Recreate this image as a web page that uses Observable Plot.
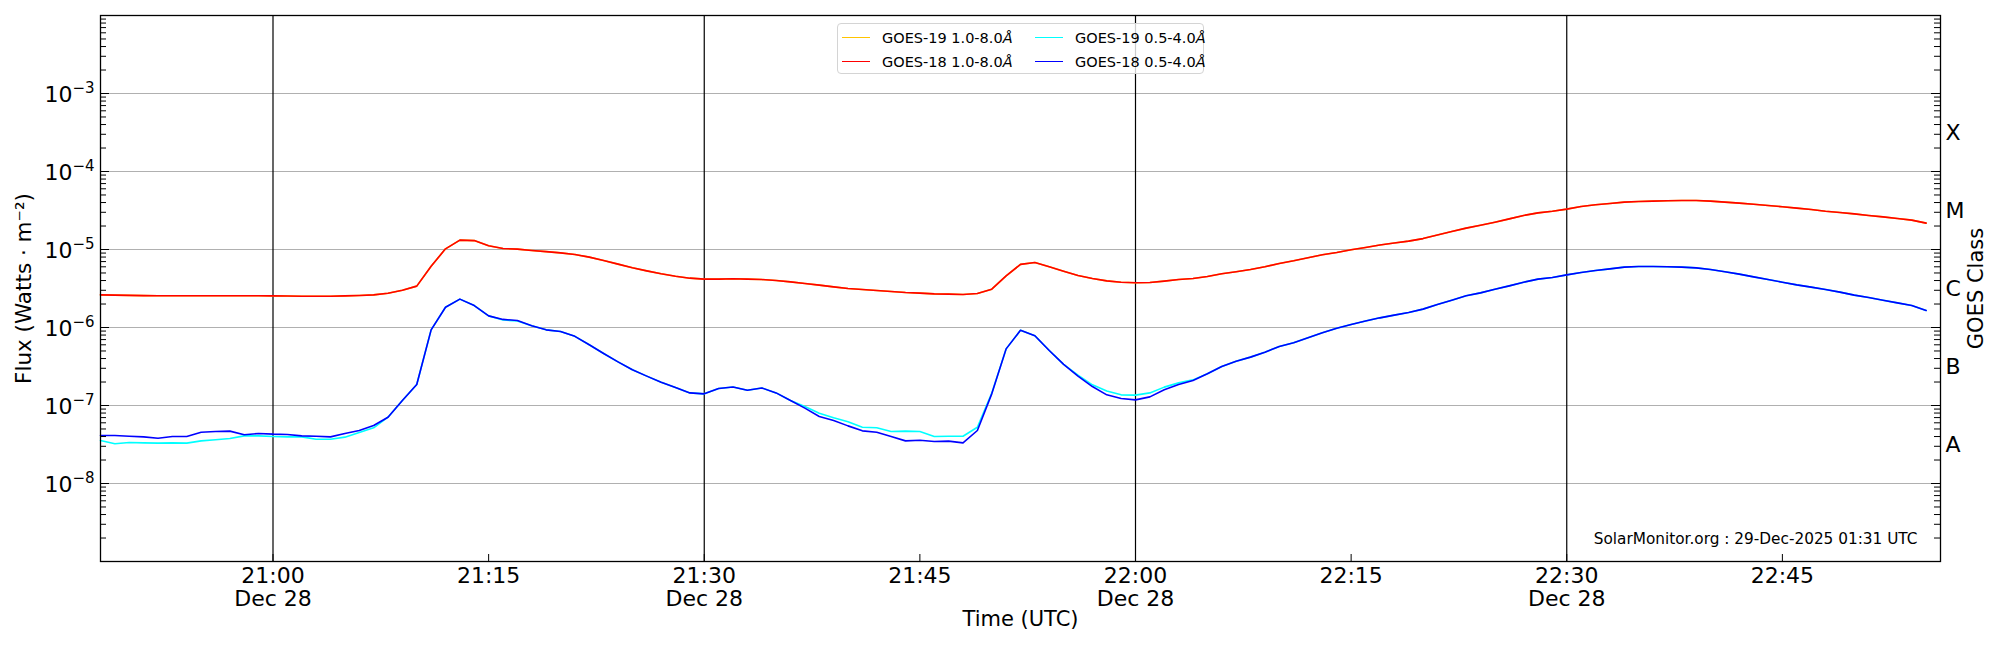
<!DOCTYPE html>
<html>
<head>
<meta charset="utf-8">
<script src="https://cdn.jsdelivr.net/npm/d3@7"></script>
<script src="https://cdn.jsdelivr.net/npm/@observablehq/plot@0.6"></script>
<style>
  body { margin: 0; background: #fff; }
  #wrap { position: relative; width: 2000px; height: 650px; font-family: "DejaVu Sans", sans-serif; }
  #legend { position: absolute; left: 837px; top: 23px; width: 365px; height: 49px;
    border: 1px solid #d4d4d4; border-radius: 4px; background: rgba(255,255,255,0.8);
    font: 14.5px "DejaVu Sans", sans-serif; color: #000; }
  #legend .h { position: absolute; width: 28px; height: 0; border-top: 1.5px solid; }
  #legend .t { position: absolute; line-height: 16px; white-space: nowrap; }
</style>
</head>
<body>
<div id="wrap"></div>
<script>
// ---- data (one sample per minute starting 2025-12-28 20:48 UTC) ----
const startTime = "2025-12-28T20:48:00Z";

const seriesNames = ["GOES-19 1.0-8.0Å", "GOES-18 1.0-8.0Å", "GOES-19 0.5-4.0Å", "GOES-18 0.5-4.0Å"];
const seriesColors = ["#ffc400", "#ff0000", "#00ffff", "#0000ff"];

const goes19Long = [
2.62e-6, 2.60e-6, 2.58e-6, 2.56e-6, 2.55e-6, 2.55e-6, 2.55e-6, 2.55e-6, 2.55e-6, 2.55e-6,
2.55e-6, 2.55e-6, 2.54e-6, 2.53e-6, 2.52e-6, 2.52e-6, 2.52e-6, 2.54e-6, 2.57e-6, 2.62e-6,
2.75e-6, 3.01e-6, 3.39e-6, 6.1e-6, 1.02e-5, 1.32e-5, 1.30e-5, 1.12e-5, 1.03e-5, 1.01e-5,
9.7e-6, 9.4e-6, 9.06e-6, 8.63e-6, 7.98e-6, 7.23e-6, 6.49e-6, 5.82e-6, 5.32e-6, 4.88e-6,
4.55e-6, 4.29e-6, 4.17e-6, 4.17e-6, 4.21e-6, 4.17e-6, 4.12e-6, 4.01e-6, 3.85e-6, 3.66e-6,
3.49e-6, 3.32e-6, 3.16e-6, 3.07e-6, 2.98e-6, 2.90e-6, 2.81e-6, 2.76e-6, 2.70e-6, 2.68e-6,
2.65e-6, 2.73e-6, 3.10e-6, 4.59e-6, 6.45e-6, 6.81e-6, 6.0e-6, 5.27e-6, 4.64e-6, 4.25e-6,
3.96e-6, 3.81e-6, 3.74e-6, 3.78e-6, 3.93e-6, 4.12e-6, 4.25e-6, 4.51e-6, 4.88e-6, 5.18e-6,
5.54e-6, 6.0e-6, 6.62e-6, 7.16e-6, 7.82e-6, 8.55e-6, 9.16e-6, 9.91e-6, 1.06e-5, 1.14e-5,
1.21e-5, 1.28e-5, 1.38e-5, 1.53e-5, 1.70e-5, 1.88e-5, 2.05e-5, 2.24e-5, 2.47e-5, 2.73e-5,
2.95e-5, 3.10e-5, 3.29e-5, 3.56e-5, 3.74e-5, 3.89e-5, 4.05e-5, 4.12e-5, 4.17e-5, 4.21e-5,
4.25e-5, 4.25e-5, 4.17e-5, 4.05e-5, 3.93e-5, 3.81e-5, 3.66e-5, 3.53e-5, 3.39e-5, 3.26e-5,
3.10e-5, 2.98e-5, 2.86e-5, 2.73e-5, 2.62e-5, 2.50e-5, 2.38e-5, 2.18e-5
];

const goes18Long = [
2.62e-6, 2.60e-6, 2.58e-6, 2.56e-6, 2.55e-6, 2.55e-6, 2.55e-6, 2.55e-6, 2.55e-6, 2.55e-6,
2.55e-6, 2.55e-6, 2.54e-6, 2.53e-6, 2.52e-6, 2.52e-6, 2.52e-6, 2.54e-6, 2.57e-6, 2.62e-6,
2.75e-6, 3.01e-6, 3.39e-6, 6.1e-6, 1.02e-5, 1.32e-5, 1.30e-5, 1.12e-5, 1.03e-5, 1.01e-5,
9.7e-6, 9.4e-6, 9.06e-6, 8.63e-6, 7.98e-6, 7.23e-6, 6.49e-6, 5.82e-6, 5.32e-6, 4.88e-6,
4.55e-6, 4.29e-6, 4.17e-6, 4.17e-6, 4.21e-6, 4.17e-6, 4.12e-6, 4.01e-6, 3.85e-6, 3.66e-6,
3.49e-6, 3.32e-6, 3.16e-6, 3.07e-6, 2.98e-6, 2.90e-6, 2.81e-6, 2.76e-6, 2.70e-6, 2.68e-6,
2.65e-6, 2.73e-6, 3.10e-6, 4.59e-6, 6.45e-6, 6.81e-6, 6.0e-6, 5.27e-6, 4.64e-6, 4.25e-6,
3.96e-6, 3.81e-6, 3.74e-6, 3.78e-6, 3.93e-6, 4.12e-6, 4.25e-6, 4.51e-6, 4.88e-6, 5.18e-6,
5.54e-6, 6.0e-6, 6.62e-6, 7.16e-6, 7.82e-6, 8.55e-6, 9.16e-6, 9.91e-6, 1.06e-5, 1.14e-5,
1.21e-5, 1.28e-5, 1.38e-5, 1.53e-5, 1.70e-5, 1.88e-5, 2.05e-5, 2.24e-5, 2.47e-5, 2.73e-5,
2.95e-5, 3.10e-5, 3.29e-5, 3.56e-5, 3.74e-5, 3.89e-5, 4.05e-5, 4.12e-5, 4.17e-5, 4.21e-5,
4.25e-5, 4.25e-5, 4.17e-5, 4.05e-5, 3.93e-5, 3.81e-5, 3.66e-5, 3.53e-5, 3.39e-5, 3.26e-5,
3.10e-5, 2.98e-5, 2.86e-5, 2.73e-5, 2.62e-5, 2.50e-5, 2.38e-5, 2.18e-5
];

const goes19Short = [
3.56e-8, 3.23e-8, 3.36e-8, 3.32e-8, 3.29e-8, 3.32e-8, 3.29e-8, 3.52e-8, 3.63e-8, 3.77e-8,
4.08e-8, 4.08e-8, 4.01e-8, 3.96e-8, 3.96e-8, 3.70e-8, 3.70e-8, 3.93e-8, 4.51e-8, 5.18e-8,
7.08e-8, 1.16e-7, 1.86e-7, 9.33e-7, 1.82e-6, 2.31e-6, 1.91e-6, 1.41e-6, 1.25e-6, 1.21e-6,
1.05e-6, 9.33e-7, 8.89e-7, 7.7e-7, 6.00e-7, 4.64e-7, 3.63e-7, 2.87e-7, 2.38e-7, 1.99e-7,
1.70e-7, 1.45e-7, 1.41e-7, 1.65e-7, 1.73e-7, 1.57e-7, 1.68e-7, 1.45e-7, 1.16e-7, 9.7e-8,
7.97e-8, 6.95e-8, 6.18e-8, 5.27e-8, 5.18e-8, 4.64e-8, 4.69e-8, 4.64e-8, 4.01e-8, 4.04e-8,
4.04e-8, 5.27e-8, 1.44e-7, 5.32e-7, 9.2e-7, 7.85e-7, 5.07e-7, 3.36e-7, 2.45e-7, 1.84e-7,
1.53e-7, 1.37e-7, 1.36e-7, 1.45e-7, 1.72e-7, 1.95e-7, 2.13e-7, 2.55e-7, 3.16e-7, 3.70e-7,
4.17e-7, 4.83e-7, 5.71e-7, 6.36e-7, 7.38e-7, 8.55e-7, 9.8e-7, 1.09e-6, 1.21e-6, 1.33e-6,
1.44e-6, 1.56e-6, 1.72e-6, 1.97e-6, 2.24e-6, 2.55e-6, 2.78e-6, 3.1e-6, 3.42e-6, 3.81e-6,
4.17e-6, 4.37e-6, 4.73e-6, 5.07e-6, 5.38e-6, 5.65e-6, 5.94e-6, 6.05e-6, 6.05e-6, 6.0e-6,
5.94e-6, 5.82e-6, 5.54e-6, 5.18e-6, 4.83e-6, 4.46e-6, 4.12e-6, 3.81e-6, 3.52e-6, 3.29e-6,
3.07e-6, 2.84e-6, 2.60e-6, 2.43e-6, 2.24e-6, 2.07e-6, 1.91e-6, 1.65e-6
];

const goes18Short = [
4.12e-8, 4.12e-8, 4.04e-8, 3.96e-8, 3.81e-8, 4.01e-8, 4.01e-8, 4.55e-8, 4.64e-8, 4.69e-8,
4.21e-8, 4.38e-8, 4.29e-8, 4.25e-8, 4.08e-8, 4.04e-8, 3.96e-8, 4.38e-8, 4.78e-8, 5.54e-8,
7.08e-8, 1.16e-7, 1.86e-7, 9.33e-7, 1.82e-6, 2.31e-6, 1.91e-6, 1.41e-6, 1.27e-6, 1.23e-6,
1.05e-6, 9.33e-7, 8.89e-7, 7.7e-7, 6.00e-7, 4.64e-7, 3.63e-7, 2.87e-7, 2.38e-7, 1.99e-7,
1.70e-7, 1.45e-7, 1.41e-7, 1.65e-7, 1.73e-7, 1.57e-7, 1.68e-7, 1.45e-7, 1.16e-7, 9.25e-8,
7.23e-8, 6.42e-8, 5.48e-8, 4.73e-8, 4.55e-8, 4.01e-8, 3.52e-8, 3.59e-8, 3.45e-8, 3.49e-8,
3.32e-8, 4.78e-8, 1.41e-7, 5.32e-7, 9.2e-7, 7.85e-7, 5.07e-7, 3.36e-7, 2.38e-7, 1.75e-7,
1.37e-7, 1.23e-7, 1.18e-7, 1.29e-7, 1.59e-7, 1.86e-7, 2.09e-7, 2.55e-7, 3.16e-7, 3.70e-7,
4.17e-7, 4.83e-7, 5.71e-7, 6.36e-7, 7.38e-7, 8.55e-7, 9.8e-7, 1.09e-6, 1.21e-6, 1.33e-6,
1.44e-6, 1.56e-6, 1.72e-6, 1.97e-6, 2.24e-6, 2.55e-6, 2.78e-6, 3.1e-6, 3.42e-6, 3.81e-6,
4.17e-6, 4.37e-6, 4.73e-6, 5.07e-6, 5.38e-6, 5.65e-6, 5.94e-6, 6.05e-6, 6.05e-6, 6.0e-6,
5.94e-6, 5.82e-6, 5.54e-6, 5.18e-6, 4.83e-6, 4.46e-6, 4.12e-6, 3.81e-6, 3.52e-6, 3.29e-6,
3.07e-6, 2.84e-6, 2.60e-6, 2.43e-6, 2.24e-6, 2.07e-6, 1.91e-6, 1.65e-6
];

// ---- axes / ticks ----
const xDomain = ["2025-12-28T20:48:00Z", "2025-12-28T22:56:00Z"];
const yDomain = [1e-9, 1e-2];
const xTickTimes = ["2025-12-28T21:00:00Z", "2025-12-28T21:15:00Z", "2025-12-28T21:30:00Z", "2025-12-28T21:45:00Z",
                    "2025-12-28T22:00:00Z", "2025-12-28T22:15:00Z", "2025-12-28T22:30:00Z", "2025-12-28T22:45:00Z"];
const xTickLabels = ["21:00\nDec 28", "21:15", "21:30\nDec 28", "21:45", "22:00\nDec 28", "22:15", "22:30\nDec 28", "22:45"];
const dayLineTimes = ["2025-12-28T21:00:00Z", "2025-12-28T21:30:00Z", "2025-12-28T22:00:00Z", "2025-12-28T22:30:00Z"];
const yDecades = [1e-8, 1e-7, 1e-6, 1e-5, 1e-4, 1e-3];
const yExponents = ["−8", "−7", "−6", "−5", "−4", "−3"];
const allDecades = [1e-9, 1e-8, 1e-7, 1e-6, 1e-5, 1e-4, 1e-3, 1e-2];
const classLabels = ["A", "B", "C", "M", "X"];
const classValues = [3.16e-8, 3.16e-7, 3.16e-6, 3.16e-5, 3.16e-4];
const watermark = "SolarMonitor.org : 29-Dec-2025 01:31 UTC";
const xLabel = "Time (UTC)";
const yLabel = "Flux (Watts · m⁻²)";
const y2Label = "GOES Class";

// ---- build table ----
const seriesValues = [goes19Long, goes18Long, goes19Short, goes18Short];
const t0 = new Date(startTime).getTime();
const rows = [];
seriesValues.forEach((vals, s) => vals.forEach((v, i) => rows.push({series: seriesNames[s], time: new Date(t0 + i * 60000), flux: v})));
const minorTicks = [];
allDecades.slice(0, -1).forEach(d => [2,3,4,5,6,7,8,9].forEach(m => minorTicks.push(m * d)));
const xTicks = xTickTimes.map(d => new Date(d));
const yDecadeRows = yDecades.map((v, i) => ({v, e: yExponents[i]}));

const W = 2000, H = 650, mL = 100, mR = 60, mT = 15, mB = 89;
const fw = W - mL - mR, fh = H - mT - mB;

const chart = Plot.plot({
  width: W, height: H,
  marginLeft: mL, marginRight: mR, marginTop: mT, marginBottom: mB,
  style: {fontFamily: "DejaVu Sans, sans-serif", fontSize: "21px", background: "white", color: "black", overflow: "visible"},
  x: {type: "utc", domain: xDomain.map(d => new Date(d)), axis: null},
  y: {type: "log", domain: yDomain, axis: null},
  color: {domain: seriesNames, range: seriesColors},
  marks: [
    Plot.ruleY(yDecades, {stroke: "#b0b0b0", strokeWidth: 1}),
    Plot.ruleX(dayLineTimes.map(d => new Date(d)), {stroke: "black", strokeWidth: 1.2}),
    Plot.line(rows, {x: "time", y: "flux", z: "series", stroke: "series", strokeWidth: 1.6}),
    // inward ticks
    Plot.tickY(allDecades, {insetRight: fw - 9, stroke: "black", strokeWidth: 1}),
    Plot.tickY(minorTicks, {insetRight: fw - 6, stroke: "black", strokeWidth: 1}),
    Plot.tickY(allDecades, {insetLeft: fw - 9, stroke: "black", strokeWidth: 1}),
    Plot.tickY(minorTicks, {insetLeft: fw - 6, stroke: "black", strokeWidth: 1}),
    Plot.tickX(xTicks, {insetTop: fh - 7, stroke: "black", strokeWidth: 1}),
    // y tick labels 10^-n
    Plot.text(yDecadeRows, {y: "v", frameAnchor: "left", text: () => "10", textAnchor: "end", dx: -28, dy: 1.5, fontSize: 22}),
    Plot.text(yDecadeRows, {y: "v", frameAnchor: "left", text: "e", textAnchor: "end", dx: -6, dy: -5, fontSize: 15}),
    // x tick labels
    Plot.text(xTicks, {x: d => d, frameAnchor: "bottom", text: (d, i) => xTickLabels[i], lineAnchor: "top", dy: 5, lineHeight: 1.05, fontSize: 22}),
    // class labels
    Plot.text(classValues, {y: d => d, frameAnchor: "right", text: (d, i) => classLabels[i], textAnchor: "start", dx: 5, fontSize: 22}),
    // axis titles
    Plot.text([xLabel], {frameAnchor: "bottom", text: d => d, textAnchor: "middle", dy: 64, fontSize: 21}),
    Plot.text([yLabel], {frameAnchor: "left", text: d => d, textAnchor: "middle", dx: -76, rotate: -90, fontSize: 21.5}),
    Plot.text([y2Label], {frameAnchor: "right", text: d => d, textAnchor: "middle", dx: 36, rotate: -90, fontSize: 21}),
    Plot.text([watermark], {frameAnchor: "bottom-right", text: d => d, textAnchor: "end", dx: -23, dy: -18, fontSize: 15.3}),
    Plot.frame({stroke: "black", strokeWidth: 1.3})
  ]
});

const wrap = document.getElementById("wrap");
wrap.appendChild(chart);

// legend (upper center, 2 columns)
const legend = document.createElement("div");
legend.id = "legend";
const colX = [4, 197], rowY = [14, 38];
seriesNames.forEach((name, i) => {
  const col = Math.floor(i / 2), row = i % 2;
  const h = document.createElement("div");
  h.className = "h";
  h.style.left = colX[col] + "px";
  h.style.top = (rowY[row] - 1) + "px";
  h.style.borderTopColor = seriesColors[i];
  legend.appendChild(h);
  const t = document.createElement("div");
  t.className = "t";
  t.style.left = (colX[col] + 40) + "px";
  t.style.top = (rowY[row] - 8) + "px";
  const base = name.replace("Å", "");
  t.innerHTML = base + "<i>Å</i>";
  legend.appendChild(t);
});
wrap.appendChild(legend);
</script>
</body>
</html>
